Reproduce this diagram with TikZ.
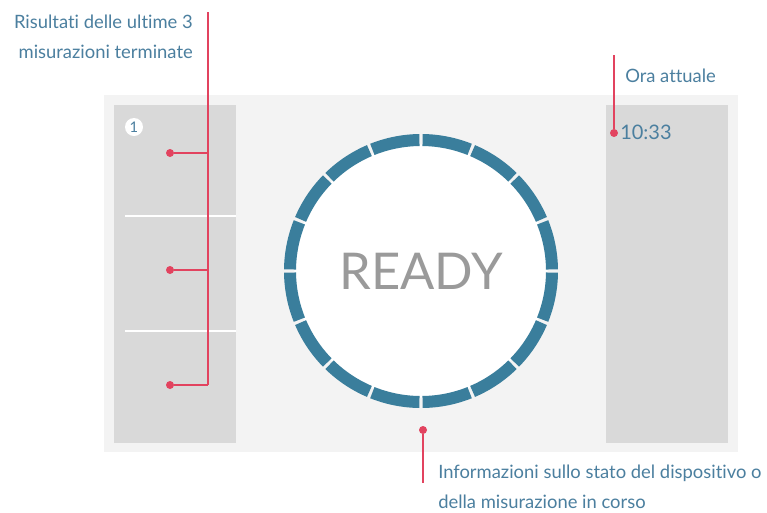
\documentclass[tikz,border=0pt]{standalone}
\usepackage{fontspec}
\setmainfont{Lato}[Ligatures=NoCommon]
\definecolor{panelgray}{HTML}{F3F3F3}
\definecolor{boxgray}{HTML}{D9D9D9}
\definecolor{ringblue}{HTML}{3A7E9C}
\definecolor{textblue}{HTML}{4B7F9F}
\definecolor{markred}{HTML}{E2435F}
\definecolor{readygray}{HTML}{9A9A9A}
\begin{document}
\begin{tikzpicture}[x=0.75pt,y=-0.75pt,
    dot/.style={circle,fill=markred,inner sep=0pt,minimum size=6pt},
    lead/.style={draw=markred,line width=1.3pt},
    callout/.style={text=textblue,font=\fontsize{13.8}{22}\selectfont,inner sep=0pt},
    seg/.style={draw=ringblue,line width=9pt}]
    \useasboundingbox[fill=white] (0,0) rectangle (767,512);
    \fill[panelgray] (104,95) rectangle (738,452);
    \fill[boxgray] (114,105) rectangle (236,443);
    \fill[boxgray] (606,105) rectangle (728,443);
    \foreach \y in {216,331}
    \draw[white,line width=2.2pt] (125,\y) -- (236,\y);
    \node[circle,fill=white,inner sep=0pt,minimum size=13.5pt,text=textblue,font=\fontsize{11}{11}\selectfont] (one) at (134,127) {1};
    \node[circle,fill=white,inner sep=0pt,minimum size=190pt,text=readygray,font=\fontsize{38}{38}\selectfont] (ring) at (421,271) {READY};
    \foreach \a in {0,22.5,...,337.5}
    \draw[seg] ([shift={(\a+0.7:131)}]ring.center) arc[start angle=\a+0.7,delta angle=21.1,radius=131];
    \node[callout,align=right,anchor=base east] (lres) at (193,58) {Risultati delle ultime 3\\misurazioni terminate};
    \coordinate (trunk) at (208,12);
    \foreach \n/\y in {1/153,2/270,3/385}{
    \node[dot] (r\n) at (170,\y) {};
    \draw[lead] (r\n) -- (r\n -| trunk);}
    \draw[lead] (trunk) -- (r3 -| trunk);
    \node[callout,anchor=base west] (lnow) at (625,82) {Ora attuale};
    \node[dot] (tnow) at (614,133) {};
    \node[anchor=base west,inner sep=0pt,text=textblue,font=\fontsize{15}{15}\selectfont] (clock) at (620,139) {10:33};
    \coordinate (ttop) at (614,55);
    \draw[lead] (tnow) -- (ttop);
    \node[dot] (state) at (423,430) {};
    \node[callout,align=left,anchor=base west] (lstate) at (438,508) {Informazioni sullo stato del dispositivo o\\della misurazione in corso};
    \coordinate (sfoot) at (423,483);
    \draw[lead] (state) -- (sfoot);
\end{tikzpicture}
\end{document}
